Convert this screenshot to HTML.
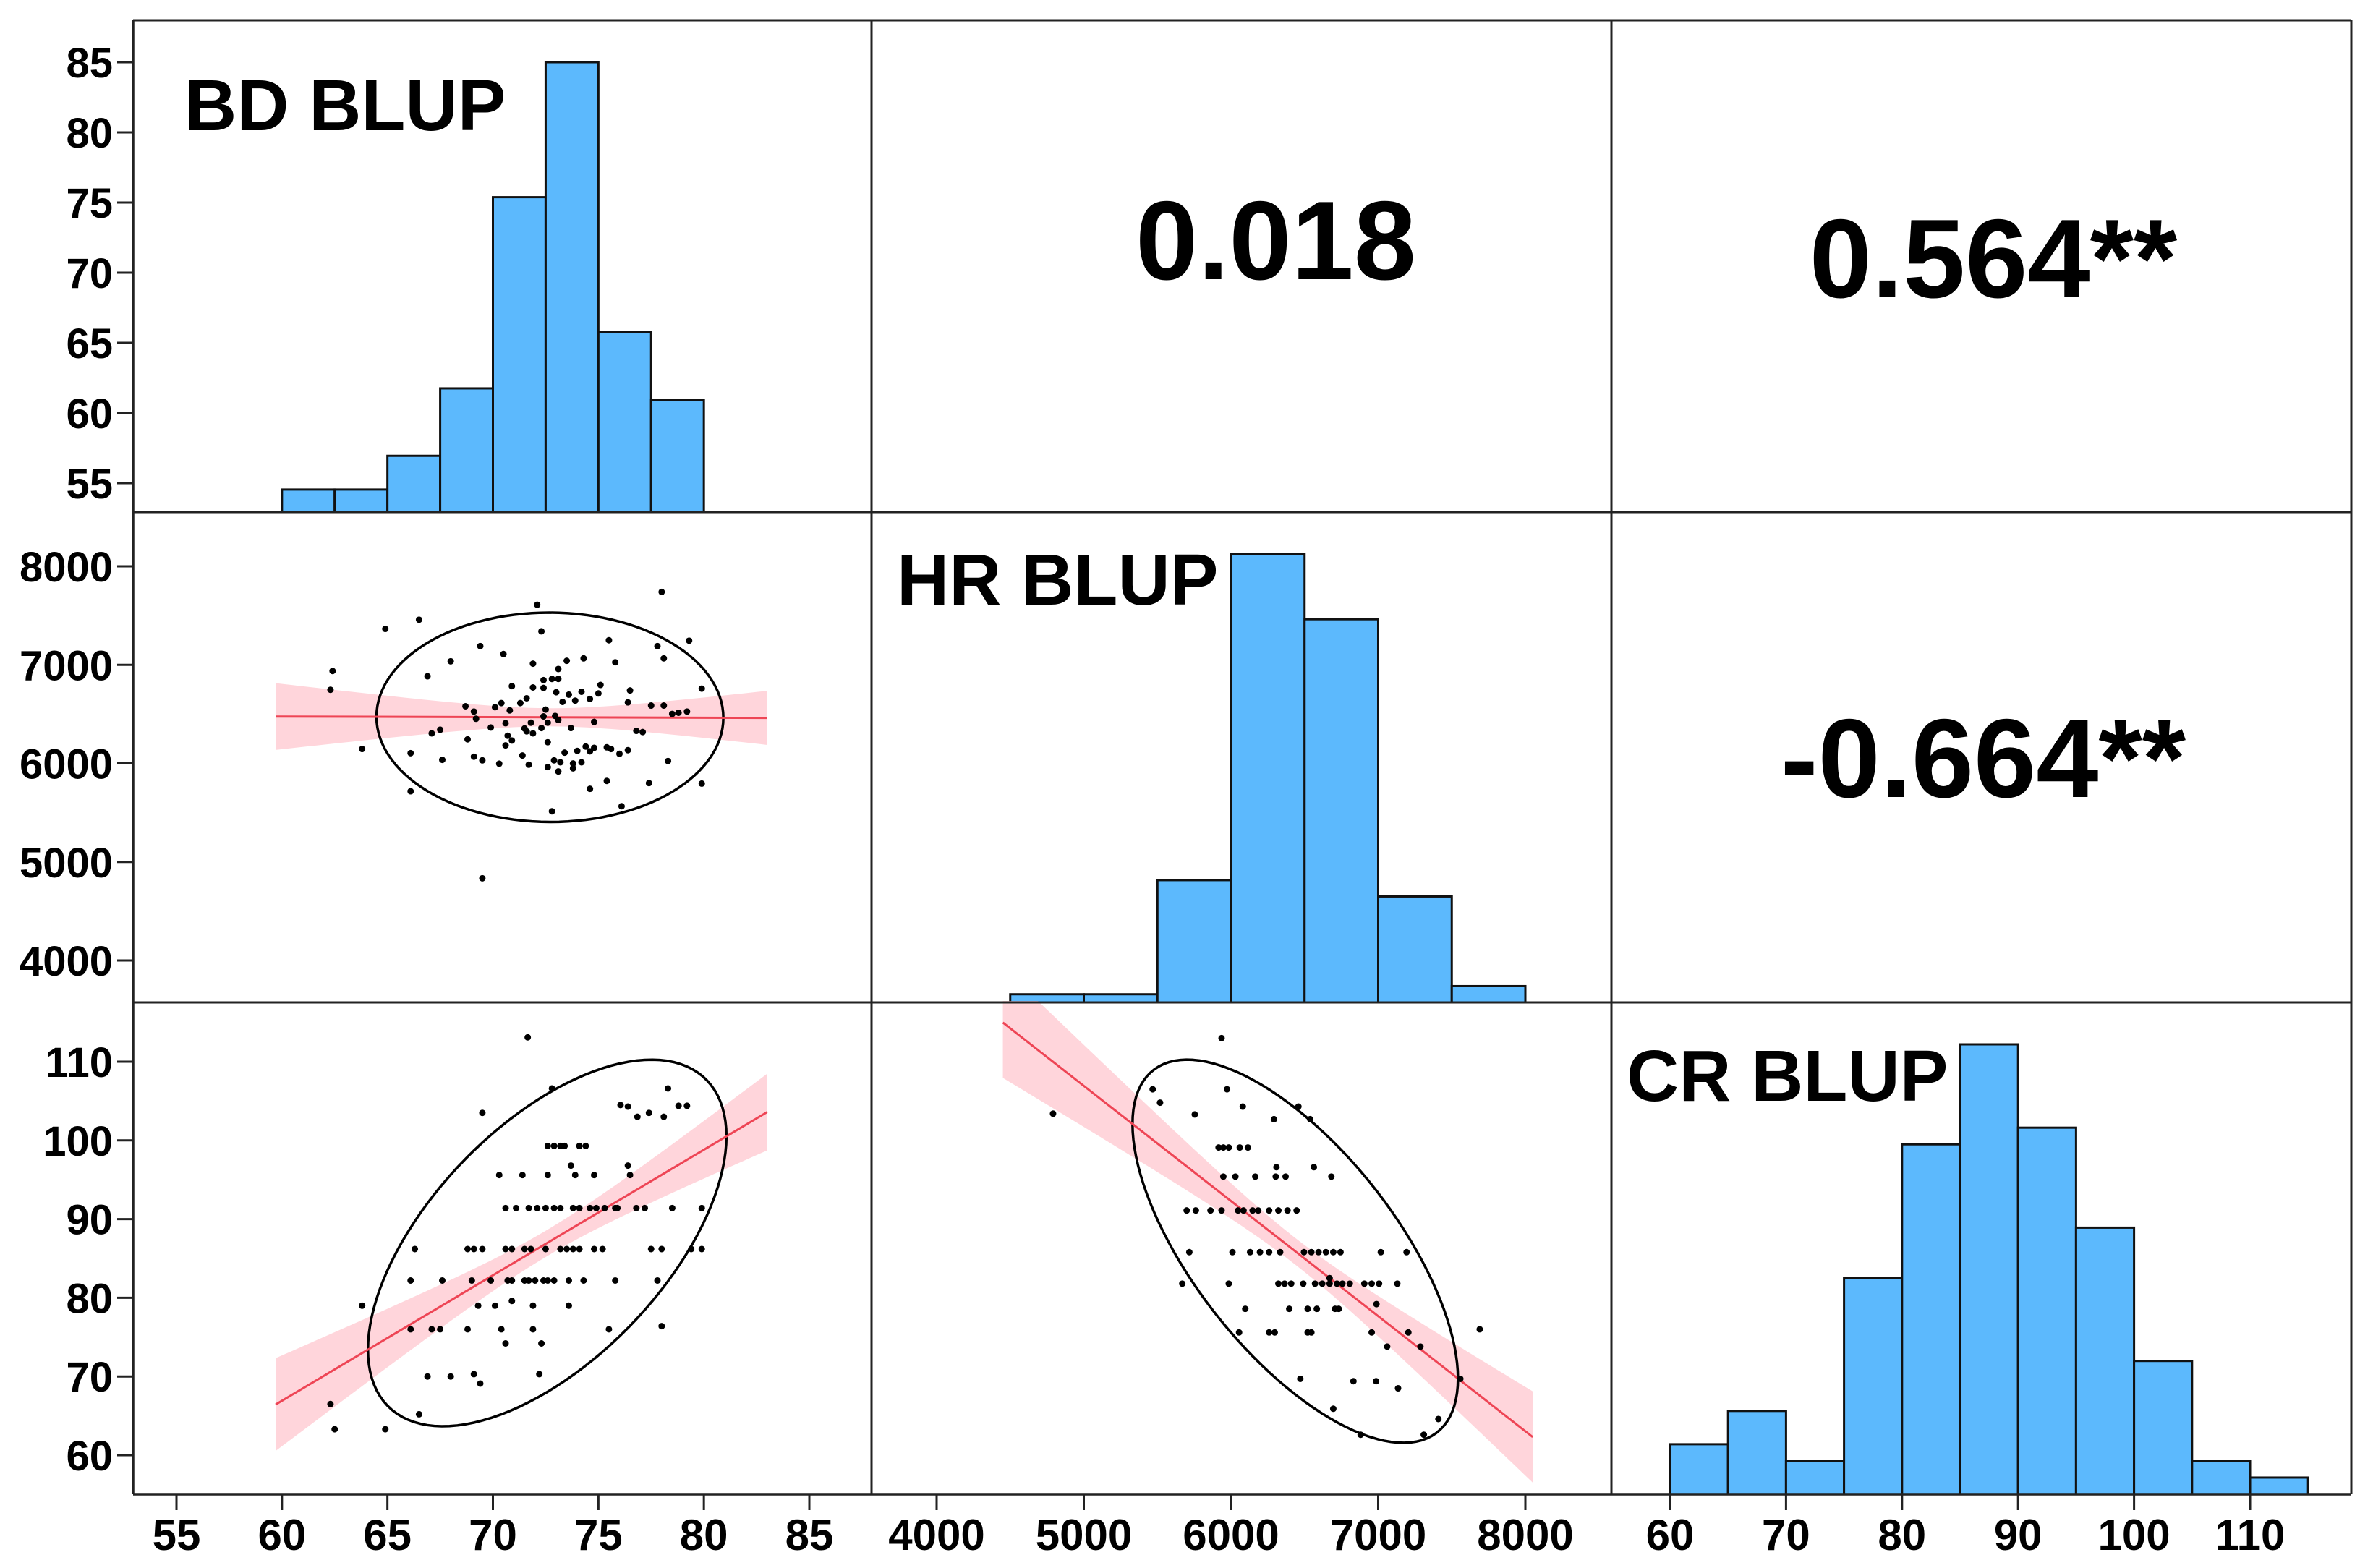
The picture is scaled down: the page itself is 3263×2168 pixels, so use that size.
<!DOCTYPE html>
<html><head><meta charset="utf-8">
<style>
html,body{margin:0;padding:0;background:#fff;}
svg{display:block;}
text{font-family:"Liberation Sans",Arial,sans-serif;font-weight:bold;fill:#000;}
</style></head>
<body>
<svg id="chart" width="3263" height="2168" viewBox="0 0 3263 2168" xmlns="http://www.w3.org/2000/svg">
<defs>
<clipPath id="clipBDHR"><rect x="184" y="706" width="1021" height="678"/></clipPath>
<clipPath id="clipBDCR"><rect x="184" y="1384" width="1021" height="681"/></clipPath>
<clipPath id="clipHRCR"><rect x="1205" y="1384" width="1023" height="681"/></clipPath>
</defs>
<g id="layer"></g>
</svg>
<script>
// ---------- DATA ----------
const bdBins = [60, 62.5, 65, 67.5, 70, 72.5, 75, 77.5];
const bdCounts = [2, 2, 5, 11, 28, 40, 16, 10];
const hrBins = [4500, 5000, 5500, 6000, 6500, 7000, 7500];
const hrCounts = [1, 1, 15, 55, 47, 13, 2];
const crBins = [60, 65, 70, 75, 80, 85, 90, 95, 100, 105, 110];
const crCounts = [3, 5, 2, 13, 21, 27, 22, 16, 8, 2, 1];
const bdWidth = 2.5, hrWidth = 500, crWidth = 5;

const bdTicks = [55, 60, 65, 70, 75, 80, 85];
const hrTicks = [4000, 5000, 6000, 7000, 8000];
const crTicks = [60, 70, 80, 90, 100, 110];

const corrLabels = ["0.018", "0.564**", "-0.664**"];
const traitLabels = ["BD BLUP", "HR BLUP", "CR BLUP"];

// BD vs HR scatter
const bdhrBD = [78.0,72.1,66.5,64.9,72.3,75.5,79.3,69.4,77.8,70.5,78.1,74.3,68.0,73.5,71.9,75.8,62.4,73.1,66.9,72.4,72.8,73.1,70.9,71.9,72.4,75.1,62.3,79.9,76.5,73.0,71.6,74.2,75.0,71.3,73.6,73.3,73.9,74.6,76.4,77.5,78.1,68.7,70.4,70.1,69.1,70.8,72.5,79.2,78.5,78.8,69.2,72.4,72.95,73.1,70.6,71.8,72.6,74.8,69.9,71.5,72.3,73.7,67.5,67.1,71.6,76.8,77.1,71.9,70.7,68.8,70.9,70.6,72.6,63.8,66.1,74.4,74.8,75.4,75.6,74.6,74.0,76.0,76.4,73.4,69.1,71.4,67.6,69.5,78.3,70.3,71.7,72.9,73.2,72.6,73.8,74.2,73.1,73.8,75.4,77.4,79.9,74.6,66.1,76.1,72.8,69.5];
const bdhrHR = [7740,7610,7458,7365,7340,7250,7245,7190,7190,7110,7066,7066,7036,7041,7012,7026,6938,6958,6884,6845,6857,6857,6784,6771,6766,6796,6747,6759,6740,6722,6661,6727,6710,6612,6698,6624,6637,6654,6619,6587,6587,6580,6612,6570,6526,6538,6546,6526,6502,6514,6453,6477,6482,6440,6408,6413,6413,6421,6364,6355,6359,6359,6342,6305,6325,6330,6318,6305,6281,6244,6232,6183,6215,6146,6104,6171,6158,6163,6146,6122,6127,6097,6134,6109,6068,6080,6036,6031,6024,5997,5987,6031,6011,5962,5999,6011,5918,5950,5822,5800,5795,5742,5717,5565,5514,4834];

// BD vs CR scatter
const bdcrBD = [71.65,72.8,78.3,69.5,76.05,76.4,76.85,77.4,78.1,78.8,79.2,
 72.6,72.9,73.2,73.4,74.1,74.4,73.7,76.4,
 70.3,71.4,72.6,73.9,74.8,76.5,
 70.6,71.1,71.7,72.1,72.5,72.9,73.2,73.8,74.1,74.6,74.9,75.3,75.8,75.9,76.8,77.2,78.5,79.9,
 66.3,68.8,69.1,69.5,70.6,70.9,71.5,71.8,72.5,73.2,73.5,73.8,74.1,74.8,75.2,77.5,78.0,79.4,79.9,
 66.1,67.6,69.0,69.9,70.7,70.9,71.5,71.7,72.0,72.4,72.6,72.9,73.6,74.3,75.8,77.8,
 63.8,69.3,70.1,71.9,73.6,70.9,
 66.1,67.1,67.5,68.8,70.4,71.9,75.5,78.0,70.6,72.3,
 66.9,68.0,69.1,72.2,69.4,66.5,62.3,62.5,64.9];
const bdcrCR = [113.1,106.6,106.6,103.5,104.5,104.3,103.0,103.5,103.0,104.4,104.4,
 99.3,99.3,99.3,99.3,99.3,99.3,96.8,96.8,
 95.6,95.6,95.6,95.6,95.6,95.6,
 91.4,91.4,91.4,91.4,91.4,91.4,91.4,91.4,91.4,91.4,91.4,91.4,91.4,91.4,91.4,91.4,91.4,91.4,
 86.2,86.2,86.2,86.2,86.2,86.2,86.2,86.2,86.2,86.2,86.2,86.2,86.2,86.2,86.2,86.2,86.2,86.2,86.2,
 82.2,82.2,82.2,82.2,82.2,82.2,82.2,82.2,82.2,82.2,82.2,82.2,82.2,82.2,82.2,82.2,
 79.0,79.0,79.0,79.0,79.0,79.6,
 76.0,76.0,76.0,76.0,76.0,76.0,76.0,76.4,74.2,74.2,
 70.0,70.0,70.3,70.3,69.1,65.2,66.5,63.3,63.3];

// HR vs CR scatter
const hrcrHR = [5936,4791,5468,5973,5518,5754,6080,6458,6538,6292,
 5916,5948,5985,6060,6115,6309,6563,
 5948,6030,6165,6304,6371,6682,
 5699,5761,5861,5936,6048,6085,6147,6185,6259,6322,6384,6446,
 5717,6010,6130,6197,6259,6334,6496,6546,6595,6645,6695,6744,7018,7193,
 5669,5985,6322,6364,6409,6491,6571,6620,6670,6720,6757,6807,6906,6956,7006,7130,6670,
 6097,6396,6521,6583,6707,6732,6988,
 6055,6259,6297,6521,6546,6956,7205,7690,7061,7287,
 6471,6832,6986,7135,7558,6695,7409,6881,7310];
const hrcrCR = [113.0,103.4,106.5,106.5,104.8,103.3,104.3,104.3,102.7,102.7,
 99.1,99.1,99.1,99.1,99.1,96.6,96.6,
 95.4,95.4,95.4,95.4,95.4,95.4,
 91.1,91.1,91.1,91.1,91.1,91.1,91.1,91.1,91.1,91.1,91.1,91.1,
 85.8,85.8,85.8,85.8,85.8,85.8,85.8,85.8,85.8,85.8,85.8,85.8,85.8,85.8,
 81.8,81.8,81.8,81.8,81.8,81.8,81.8,81.8,81.8,81.8,81.8,81.8,81.8,81.8,81.8,81.8,82.5,
 78.6,78.6,78.6,78.6,78.6,78.6,79.2,
 75.6,75.6,75.6,75.6,75.6,75.6,75.6,76.0,73.8,73.8,
 69.7,69.4,69.4,68.5,69.7,65.9,64.6,62.6,62.6];

// fit line extents (data units)
const bdFitRange = [59.7, 83.0];
const hrFitRange = [4450, 8050];

// ---------- AXES ----------
const L = 184, R = 3251, C1 = 1205, C2 = 2228, T = 28, R1 = 708, R2 = 1386, B = 2066;
const xBD = v => 244 + (v - 55) * (1119 - 244) / 30;
const xHR = v => 1295 + (v - 4000) * (2109 - 1295) / 4000;
const xCR = v => 2309 + (v - 60) * (3111 - 2309) / 50;
const yBDaxis = v => 86 + (85 - v) * (668 - 86) / 30;
const yHR = v => 783 + (8000 - v) * (1328 - 783) / 4000;
const yCR = v => 1468 + (110 - v) * (2012 - 1468) / 50;
const yCnt1 = c => R1 - c * (R1 - 86) / 40;
const yCnt2 = c => R2 - c * (R2 - 766) / 55;
const yCnt3 = c => B - c * (B - 1444) / 27;

const NS = "http://www.w3.org/2000/svg";
const layer = document.getElementById("layer");
function mk(tag, attrs, parent) {
  const e = document.createElementNS(NS, tag);
  for (const k in attrs) e.setAttribute(k, attrs[k]);
  (parent || layer).appendChild(e);
  return e;
}

// histograms
function hist(bins, counts, w, xf, yf, name) {
  const g = mk("g", {});
  
  
  bins.forEach((b, i) => {
    const x0 = xf(b), x1 = xf(b + w), y = yf(counts[i]), y0 = yf(0);
    const r = mk("rect", {x: x0, y: y, width: x1 - x0, height: y0 - y, fill: "#5cb9fd", stroke: "#111", "stroke-width": 3}, g);
    
    
  });
}
hist(bdBins, bdCounts, bdWidth, xBD, yCnt1, "bd-histogram");
hist(hrBins, hrCounts, hrWidth, xHR, yCnt2, "hr-histogram");
hist(crBins, crCounts, crWidth, xCR, yCnt3, "cr-histogram");

// stats helpers
function stats(xs, ys) {
  const n = xs.length;
  const mx = xs.reduce((a, b) => a + b, 0) / n, my = ys.reduce((a, b) => a + b, 0) / n;
  let sxx = 0, syy = 0, sxy = 0;
  for (let i = 0; i < n; i++) { sxx += (xs[i]-mx)**2; syy += (ys[i]-my)**2; sxy += (xs[i]-mx)*(ys[i]-my); }
  const b = sxy / sxx, a = my - b * mx;
  let sse = 0;
  for (let i = 0; i < n; i++) sse += (ys[i] - a - b * xs[i]) ** 2;
  const s = Math.sqrt(sse / (n - 2));
  return {n, mx, my, sxx, sx: Math.sqrt(sxx/(n-1)), sy: Math.sqrt(syy/(n-1)), r: sxy/Math.sqrt(sxx*syy), a, b, s};
}

function scatter(xs, ys, xf, yf, range, clip, name) {
  const st = stats(xs, ys);
  const g = mk("g", {"clip-path": "url(#" + clip + ")"});
  
  
  // confidence band
  const N = 60, up = [], lo = [];
  for (let k = 0; k <= N; k++) {
    const x = range[0] + (range[1] - range[0]) * k / N;
    const yh = st.a + st.b * x;
    const se = 1.98 * st.s * Math.sqrt(1 / st.n + (x - st.mx) ** 2 / st.sxx);
    up.push(xf(x) + "," + yf(yh + se));
    lo.unshift(xf(x) + "," + yf(yh - se));
  }
  const band = mk("polygon", {points: up.concat(lo).join(" "), fill: "#ffc7cf", opacity: 0.75}, g);
  
  
  // ellipse
  const A = 2.23, pts = [];
  for (let k = 0; k <= 120; k++) {
    const t = 2 * Math.PI * k / 120;
    const x = st.mx + A * st.sx * Math.cos(t);
    const y = st.my + A * st.sy * (st.r * Math.cos(t) + Math.sqrt(1 - st.r * st.r) * Math.sin(t));
    pts.push(xf(x) + "," + yf(y));
  }
  const el = mk("polygon", {points: pts.join(" "), fill: "none", stroke: "#000", "stroke-width": 3.5}, g);
  
  
  // regression line
  const ln = mk("line", {x1: xf(range[0]), y1: yf(st.a + st.b * range[0]), x2: xf(range[1]), y2: yf(st.a + st.b * range[1]), stroke: "#ee4555", "stroke-width": 3}, g);
  
  
  // points
  xs.forEach((x, i) => {
    const c = mk("circle", {cx: xf(x), cy: yf(ys[i]), r: 4.5, fill: "#000"}, g);
    
    
  });
}
scatter(bdhrBD, bdhrHR, xBD, yHR, bdFitRange, "clipBDHR", "bd-hr-scatter");
scatter(bdcrBD, bdcrCR, xBD, yCR, bdFitRange, "clipBDCR", "bd-cr-scatter");
scatter(hrcrHR, hrcrCR, xHR, yCR, hrFitRange, "clipHRCR", "hr-cr-scatter");

// grid frame
function line(x1, y1, x2, y2, w, name) {
  const l = mk("line", {x1, y1, x2, y2, stroke: "#222", "stroke-width": w});
  
  
}
line(L, T, R, T, 3, "frame-top");
line(L, T, L, B, 3.5, "frame-left");
line(R, T, R, B, 3, "frame-right");
line(L, B, R, B, 3.5, "frame-bottom");
line(C1, T, C1, B, 3, "column-divider-1");
line(C2, T, C2, B, 3, "column-divider-2");
line(L, R1, R, R1, 3, "row-divider-1");
line(L, R2, R, R2, 3, "row-divider-2");

// ticks
function xTicks(ticks, xf, name) {
  ticks.forEach(v => {
    const x = xf(v);
    line(x, B, x, B + 22, 3, name + "-tick");
    const t = mk("text", {x: x, y: 2143, "text-anchor": "middle", "font-size": 60});
    t.textContent = v;
    
    
  });
}
function yTicks(ticks, yf, name) {
  ticks.forEach(v => {
    const y = yf(v);
    line(162, y, L, y, 3, name + "-tick");
    const t = mk("text", {x: 156, y: y + 21, "text-anchor": "end", "font-size": 58});
    t.textContent = v;
    
    
  });
}
xTicks(bdTicks, xBD, "bd-x-axis");
xTicks(hrTicks, xHR, "hr-x-axis");
xTicks(crTicks, xCR, "cr-x-axis");
yTicks(bdTicks, yBDaxis, "bd-y-axis");
yTicks(hrTicks, yHR, "hr-y-axis");
yTicks(crTicks, yCR, "cr-y-axis");

// labels
function label(txt, x, y, size, anchor, name) {
  const t = mk("text", {x, y, "font-size": size, "text-anchor": anchor});
  t.textContent = txt;
  
  
}
label(traitLabels[0], 255, 180, 100, "start", "bd-blup-title");
label(traitLabels[1], 1240, 836, 100, "start", "hr-blup-title");
label(traitLabels[2], 2249, 1522, 100, "start", "cr-blup-title");
label(corrLabels[0], 1764, 386, 155, "middle", "corr-bd-hr");
label(corrLabels[1], 2756, 411, 155, "middle", "corr-bd-cr");
label(corrLabels[2], 2742, 1102, 155, "middle", "corr-hr-cr");
</script>
</body></html>
